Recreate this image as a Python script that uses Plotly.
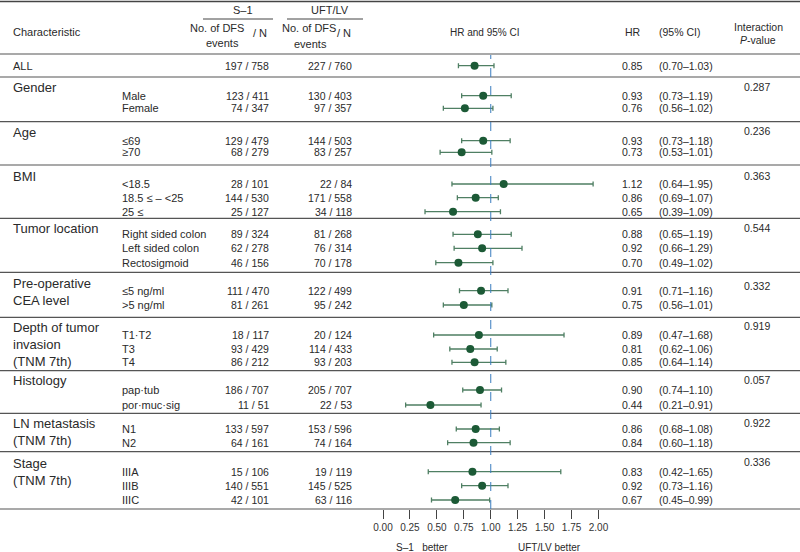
import plotly.graph_objects as go

# ---------------- data ----------------
group_labels = ["ALL", "Gender", "Age", "BMI", "Tumor location", "Pre-operative<br>CEA level",
                "Depth of tumor<br>invasion<br>(TNM 7th)", "Histology", "LN metastasis<br>(TNM 7th)",
                "Stage<br>(TNM 7th)"]
group_pvalues = ["", "0.287", "0.236", "0.363", "0.544", "0.332", "0.919", "0.057", "0.922", "0.336"]

sub_labels = ["", "Male", "Female", "≤69", "≥70", "<18.5", "18.5 ≤ – <25", "25 ≤",
              "Right sided colon", "Left sided colon", "Rectosigmoid", "≤5 ng/ml", ">5 ng/ml",
              "T1·T2", "T3", "T4", "pap·tub", "por·muc·sig", "N1", "N2", "IIIA", "IIIB", "IIIC"]
s1_events = [197, 123, 74, 129, 68, 28, 144, 25, 89, 62, 46, 111, 81, 18, 93, 86, 186, 11, 133, 64, 15, 140, 42]
s1_n = [758, 411, 347, 479, 279, 101, 530, 127, 324, 278, 156, 470, 261, 117, 429, 212, 707, 51, 597, 161, 106, 551, 101]
uft_events = [227, 130, 97, 144, 83, 22, 171, 34, 81, 76, 70, 122, 95, 20, 114, 93, 205, 22, 153, 74, 19, 145, 63]
uft_n = [760, 403, 357, 503, 257, 84, 558, 118, 268, 314, 178, 499, 242, 124, 433, 203, 707, 53, 596, 164, 119, 525, 116]
hr = [0.85, 0.93, 0.76, 0.93, 0.73, 1.12, 0.86, 0.65, 0.88, 0.92, 0.70, 0.91, 0.75, 0.89, 0.81, 0.85,
      0.90, 0.44, 0.86, 0.84, 0.83, 0.92, 0.67]
ci_lo = [0.70, 0.73, 0.56, 0.73, 0.53, 0.64, 0.69, 0.39, 0.65, 0.66, 0.49, 0.71, 0.56, 0.47, 0.62, 0.64,
         0.74, 0.21, 0.68, 0.60, 0.42, 0.73, 0.45]
ci_hi = [1.03, 1.19, 1.02, 1.18, 1.01, 1.95, 1.07, 1.09, 1.19, 1.29, 1.02, 1.16, 1.01, 1.68, 1.06, 1.14,
         1.10, 0.91, 1.08, 1.18, 1.65, 1.16, 0.99]
tick_vals = [0.0, 0.25, 0.5, 0.75, 1.0, 1.25, 1.5, 1.75, 2.0]

# ---------------- layout (pixel positions, top-down) ----------------
W, H = 800, 552
AXIS_Y = 509
row_y = [65.7, 95.7, 108.3, 140.7, 152.3, 184, 197.7, 211.7, 234.3, 248.3, 262.7, 290.7, 305,
         335, 349, 362.3, 390, 405, 429, 442.7, 471.7, 485.7, 500]
group_label_y = [65.7, 87, 132.7, 176.7, 228.3, 283.3, 328.3, 380, 423.3, 463.3]
group_p_y = [0, 87.3, 131, 176, 228, 286, 326, 380, 423, 461.7]
sep_y = [54, 77, 121.7, 165, 218.3, 272.3, 317.3, 370.7, 413.3, 451.7]

FONT = "Liberation Sans, Arial, Helvetica, sans-serif"
TXT = "#2a2a2a"
GREEN = "#1c5a36"
BAR = "#4f7f63"

px0, px2 = 383.0, 598.5
scale = (px2 - px0) / 2.0
x_range = [-px0 / scale, (W - px0) / scale]


def py(p):
    return 1 - p / H


def px(p):
    return p / W


annotations = []


def txt(x, y, s, size=10.5, xanchor="left", color=TXT, yanchor="middle", align="left"):
    annotations.append(dict(x=px(x), y=py(y), xref="paper", yref="paper", text=s, showarrow=False,
                            xanchor=xanchor, yanchor=yanchor, align=align,
                            font=dict(family=FONT, size=size, color=color)))


# headers
txt(11, 32, "Characteristic", 11)
txt(243, 10, "S–1", 11, "center")
txt(330, 10, "UFT/LV", 11, "center")
txt(217, 28, "No. of DFS", 11, "center")
txt(222, 43, "events", 11, "center")
txt(251, 33, "/ N", 11, "left")
txt(309, 28, "No. of DFS", 11, "center")
txt(310, 44, "events", 11, "center")
txt(335, 33, "/ N", 11, "left")
txt(485, 32, "HR and 95% CI", 10, "center")
txt(633, 32, "HR", 10.5, "center")
txt(679, 32, "(95% CI)", 10.5, "center")
txt(758, 27, "Interaction", 10.5, "center")
txt(758, 40, "<i>P</i>-value", 10.5, "center")

# group labels
line_h = 16.5
for lab, y0, p, pyv in zip(group_labels, group_label_y, group_pvalues, group_p_y):
    n = lab.count("<br>") + 1
    size = 11 if lab == "ALL" else 13
    txt(11, y0 + (n - 1) * line_h / 2, lab, size)
    if p:
        txt(757, pyv, p, 10.5, "center")

# rows
for i, y in enumerate(row_y):
    if sub_labels[i]:
        txt(120, y, sub_labels[i], 11)
    txt(271, y, f"{s1_events[i]} / {s1_n[i]}", 10.5, "right")
    txt(354, y, f"{uft_events[i]} / {uft_n[i]}", 10.5, "right")
    txt(645, y, f"{hr[i]:.2f}", 10.5, "right")
    txt(657, y, f"({ci_lo[i]:.2f}–{ci_hi[i]:.2f})", 10.5, "left")

# bottom labels
txt(422, 547, "S–1\u00a0\u00a0\u00a0better", 10, "center")
txt(549, 547, "UFT/LV better", 10, "center")

# shapes: table rules
shapes = []
shapes.append(dict(type="line", xref="paper", yref="paper", x0=0, x1=1, y0=py(1.5), y1=py(1.5),
                   line=dict(color="#444", width=1.5)))
for s in sep_y:
    shapes.append(dict(type="line", xref="paper", yref="paper", x0=0, x1=1, y0=py(s), y1=py(s),
                       line=dict(color="#555", width=1.2)))
shapes.append(dict(type="line", xref="paper", yref="paper", x0=0, x1=1, y0=py(AXIS_Y), y1=py(AXIS_Y),
                   line=dict(color="#555", width=1.2)))
shapes.append(dict(type="line", xref="paper", yref="paper", x0=px(203), x1=px(273), y0=py(19), y1=py(19),
                   line=dict(color="#444", width=1)))
shapes.append(dict(type="line", xref="paper", yref="paper", x0=px(287), x1=px(363), y0=py(19), y1=py(19),
                   line=dict(color="#444", width=1)))
# reference line at HR = 1
shapes.append(dict(type="line", xref="x", yref="paper", x0=1, x1=1, y0=py(AXIS_Y), y1=py(55),
                   line=dict(color="#3a7dbf", width=1, dash="dash")))

fig = go.Figure()
fig.add_trace(go.Scatter(
    x=hr, y=row_y, mode="markers",
    marker=dict(color=GREEN, size=8),
    error_x=dict(type="data", symmetric=False,
                 array=[h - m for h, m in zip(ci_hi, hr)],
                 arrayminus=[m - l for m, l in zip(hr, ci_lo)],
                 color=BAR, thickness=1.3, width=2.5),
    showlegend=False, hoverinfo="skip"))

fig.update_layout(
    width=W, height=H, autosize=False,
    margin=dict(l=0, r=0, t=0, b=0),
    paper_bgcolor="white", plot_bgcolor="white",
    xaxis=dict(range=x_range, domain=[0, 1], tickvals=tick_vals,
               ticktext=[f"{v:.2f}" for v in tick_vals], ticks="outside", ticklen=9,
               tickcolor="#444", tickwidth=1, showgrid=False, zeroline=False, showline=False,
               tickfont=dict(family=FONT, size=10, color="#333"), fixedrange=True),
    yaxis=dict(range=[AXIS_Y, 0], domain=[1 - AXIS_Y / H, 1], visible=False, fixedrange=True),
    annotations=annotations, shapes=shapes,
)

fig.write_html("out.html", config={"displayModeBar": False},
               post_script="document.body.style.margin='0';document.body.style.overflow='hidden';")
